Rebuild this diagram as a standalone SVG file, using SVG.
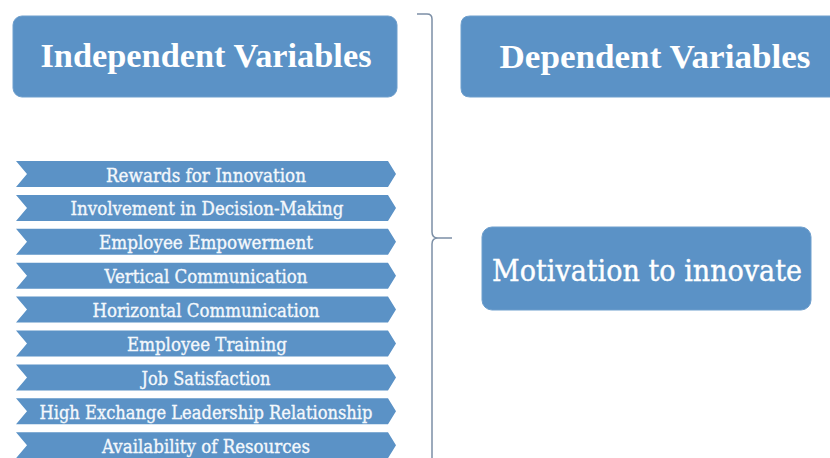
<svg xmlns="http://www.w3.org/2000/svg" width="830" height="458" viewBox="0 0 830 458">
<defs>
<style>
.box{fill:#5B92C6;stroke:#6F9FCD;stroke-width:1}
.chev{fill:#5B92C6}
.head{font-family:"Liberation Serif","DejaVu Serif",serif;font-weight:bold;fill:#FFFFFF;font-size:33px;text-anchor:middle}
.mot{font-family:"DejaVu Serif","Liberation Serif",serif;fill:#FFFFFF;stroke:#FFFFFF;stroke-width:0.4;font-size:29px;text-anchor:middle}
.lbl{font-family:"DejaVu Serif","Liberation Serif",serif;fill:#F4F8FC;stroke:#F4F8FC;stroke-width:0.35;font-size:18.5px;text-anchor:middle}
.brace{fill:none;stroke:#7C8FA6;stroke-width:1.5}
</style>
</defs>
<rect width="830" height="458" fill="#FFFFFF"/>
<g id="independent-header">
<rect class="box" x="13" y="16" width="384" height="81" rx="9"/>
<text class="head" x="206" y="67" textLength="331" lengthAdjust="spacingAndGlyphs">Independent Variables</text>
</g>
<g id="dependent-header">
<path class="box" d="M830,16 L470,16 Q461,16 461,25 L461,88 Q461,97 470,97 L830,97"/>
<text class="head" x="655" y="68" textLength="311" lengthAdjust="spacingAndGlyphs">Dependent Variables</text>
</g>
<g id="motivation">
<rect class="box" x="482" y="227" width="329" height="83" rx="10"/>
<text class="mot" x="647" y="281" textLength="310" lengthAdjust="spacingAndGlyphs">Motivation to innovate</text>
</g>
<g id="rewards">
<polygon class="chev" points="16,161 388,161 396,174 388,187 16,187 27,174"/>
<text class="lbl" x="206" y="181.5" textLength="200" lengthAdjust="spacingAndGlyphs">Rewards for Innovation</text>
</g>
<g id="involvement">
<polygon class="chev" points="16,194.9 388,194.9 396,207.9 388,220.9 16,220.9 27,207.9"/>
<text class="lbl" x="207" y="215.4" textLength="273" lengthAdjust="spacingAndGlyphs">Involvement in Decision-Making</text>
</g>
<g id="empowerment">
<polygon class="chev" points="16,228.8 388,228.8 396,241.8 388,254.8 16,254.8 27,241.8"/>
<text class="lbl" x="206" y="249.3" textLength="214" lengthAdjust="spacingAndGlyphs">Employee Empowerment</text>
</g>
<g id="vertical">
<polygon class="chev" points="16,262.7 388,262.7 396,275.7 388,288.7 16,288.7 27,275.7"/>
<text class="lbl" x="206" y="283.2" textLength="203" lengthAdjust="spacingAndGlyphs">Vertical Communication</text>
</g>
<g id="horizontal">
<polygon class="chev" points="16,296.6 388,296.6 396,309.6 388,322.6 16,322.6 27,309.6"/>
<text class="lbl" x="206" y="317.1" textLength="227" lengthAdjust="spacingAndGlyphs">Horizontal Communication</text>
</g>
<g id="training">
<polygon class="chev" points="16,330.5 388,330.5 396,343.5 388,356.5 16,356.5 27,343.5"/>
<text class="lbl" x="207" y="351" textLength="160" lengthAdjust="spacingAndGlyphs">Employee Training</text>
</g>
<g id="satisfaction">
<polygon class="chev" points="16,364.4 388,364.4 396,377.4 388,390.4 16,390.4 27,377.4"/>
<text class="lbl" x="206" y="384.9" textLength="129" lengthAdjust="spacingAndGlyphs">Job Satisfaction</text>
</g>
<g id="leadership">
<polygon class="chev" points="16,398.3 388,398.3 396,411.3 388,424.3 16,424.3 27,411.3"/>
<text class="lbl" x="206" y="418.8" textLength="333" lengthAdjust="spacingAndGlyphs">High Exchange Leadership Relationship</text>
</g>
<g id="resources">
<polygon class="chev" points="16,432.2 388,432.2 396,445.2 388,458.2 16,458.2 27,445.2"/>
<text class="lbl" x="206" y="452.7" textLength="208" lengthAdjust="spacingAndGlyphs">Availability of Resources</text>
</g>
<g id="connectors">
<path class="brace" d="M417,14 L427,14 Q432,14 432,19 L432,232 Q432,238 438,238 L452,238 M438,238 Q432,238 432,244 L432,460"/>
</g>
</svg>
